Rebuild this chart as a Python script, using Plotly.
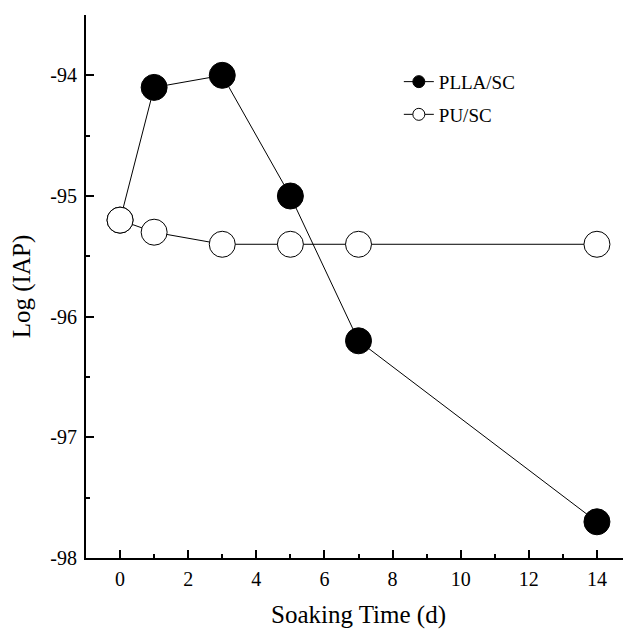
import plotly.graph_objects as go

days = [0, 1, 3, 5, 7, 14]
plla_sc = [-95.2, -94.1, -94.0, -95.0, -96.2, -97.7]
pu_sc = [-95.2, -95.3, -95.4, -95.4, -95.4, -95.4]
x_ticks = [0, 2, 4, 6, 8, 10, 12, 14]
y_ticks = [-98, -97, -96, -95, -94]
y_tick_labels = ["-98", "-97", "-96", "-95", "-94"]

font = "Liberation Serif, Times New Roman, serif"

fig = go.Figure()
fig.add_trace(go.Scatter(
    x=days, y=plla_sc, mode="lines+markers", name="PLLA/SC", showlegend=False,
    line=dict(color="black", width=1),
    marker=dict(symbol="circle", size=26, color="black", line=dict(color="black", width=1)),
))
fig.add_trace(go.Scatter(
    x=days, y=pu_sc, mode="lines+markers", name="PU/SC", showlegend=False,
    line=dict(color="black", width=1),
    marker=dict(symbol="circle", size=26, color="white", line=dict(color="black", width=1)),
))
# legend entries with smaller symbols
fig.add_trace(go.Scatter(
    x=[None], y=[None], mode="lines+markers", name="PLLA/SC", legendgroup="a",
    line=dict(color="black", width=1),
    marker=dict(symbol="circle", size=12, color="black", line=dict(color="black", width=1)),
))
fig.add_trace(go.Scatter(
    x=[None], y=[None], mode="lines+markers", name="PU/SC", legendgroup="b",
    line=dict(color="black", width=1),
    marker=dict(symbol="circle", size=12, color="white", line=dict(color="black", width=1)),
))

axis_common = dict(
    showline=True, linecolor="black", linewidth=2, showgrid=False, zeroline=False,
    ticks="inside", ticklen=8, tickwidth=2, tickcolor="black",
    tickfont=dict(family=font, size=20, color="black"), automargin=False,
)
fig.update_xaxes(
    range=[-1, 15], tickvals=x_ticks, ticklabelstandoff=2,
    minor=dict(ticks="inside", ticklen=4, tickwidth=2, tickcolor="black", dtick=1, tick0=0),
    title=dict(text="Soaking Time (d)", font=dict(family=font, size=25, color="black"), standoff=17),
    **axis_common,
)
fig.update_yaxes(
    range=[-98, -93.5], tickvals=y_ticks, ticktext=y_tick_labels, ticklabelstandoff=3,
    minor=dict(ticks="inside", ticklen=4, tickwidth=2, tickcolor="black", dtick=0.5, tick0=-98),
    title=dict(text="Log (IAP)", font=dict(family=font, size=25, color="black"), standoff=14),
    **axis_common,
)
fig.update_layout(
    width=623, height=621,
    margin=dict(l=78, r=0, t=7, b=71),
    paper_bgcolor="white", plot_bgcolor="white",
    showlegend=True,
    legend=dict(
        x=0.574, y=0.912, xanchor="left", yanchor="top",
        bgcolor="rgba(0,0,0,0)", borderwidth=0,
        font=dict(family=font, size=19, color="black"),
        tracegroupgap=5,
    ),
)
fig.write_html("out.html")
